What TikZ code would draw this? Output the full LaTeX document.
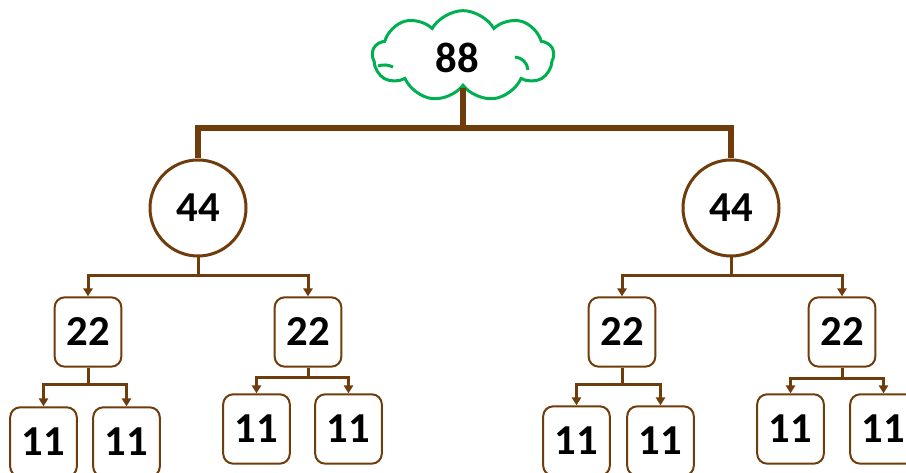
\documentclass[tikz,border=0pt]{standalone}
\usepackage{fontspec}
\setmainfont{Carlito}
\usetikzlibrary{arrows.meta}
\usetikzlibrary{shapes.symbols}
\definecolor{mbrown}{HTML}{6F3C0B}
\definecolor{mgreen}{HTML}{00B050}
\tikzset{num/.style = {font = \fontsize{32}{34}\selectfont\bfseries, text = black}}
\tikzset{puff/.style = {num, cloud, draw = mgreen, line width = 2.25, cloud puffs = 9, cloud puff arc = 120, cloud ignores aspect, minimum width = 136, minimum height = 68}}
\tikzset{half/.style = {num, circle, draw = mbrown, line width = 2.25, inner sep = 0, minimum size = 72}}
\tikzset{box/.style = {num, rectangle, rounded corners = 7.5, draw = mbrown, line width = 1.5, inner sep = 0, minimum width = 50, minimum height = 52}}
\tikzset{trunk/.style = {draw = mbrown, line width = 4.5}}
\tikzset{twig/.style = {draw = mbrown, line width = 2.25, -{Triangle[length = 6, width = 7]}}}

\begin{document}
\begin{tikzpicture}[x = 0.75pt, y = 0.75pt]
      \useasboundingbox (0, 0) rectangle (906, 473);

      \node [puff] (c88) at (463, 417) {};
      \node [num] (t88) at (457, 415) {88};
      % the little inner folds of the cloud
      \draw [mgreen, line width = 2.25] ([shift = {(-85, -10)}] c88.center) to [bend left = 20] ++(15, -1);
      \draw [mgreen, line width = 2.25] ([shift = {(52, -1)}] c88.center) to [bend left = 40] ++(13, -13);

      \node [half] (h44a) at (198, 265) {44};
      \node [half] (h44b) at (731, 265) {44};

      \foreach \x/\n in {88/a, 308/b, 622/c, 842/d} {
        \node [box] (q22\n) at (\x, 141) {22};
      }
      \foreach \x/\y/\n in {43.5/31/a1, 126.5/31/a2, 256.5/44/b1, 348.5/44/b2,
                            576.5/32/c1, 660.5/32/c2, 790.5/44/d1, 883.5/44/d2} {
        \node [box] (e11\n) at (\x, \y) {11};
      }

      \draw [trunk] (c88.south) |- ([yshift = 22.5pt] h44a.north) -- (h44a.north);
      \draw [trunk] (c88.south) |- ([yshift = 22.5pt] h44b.north) -- (h44b.north);

      \foreach \p/\c in {h44a/q22a, h44a/q22b, h44b/q22c, h44b/q22d} {
        \draw [twig] (\p.south) |- ([yshift = 15.75pt] \c.north) -- (\c.north);
      }
      \foreach \n/\g in {a/16.5, b/12, c/15.75, d/11.25} {
        \draw [twig] (q22\n.south) |- ([yshift = \g pt] e11\n1.north) -- (e11\n1.north);
        \draw [twig] (q22\n.south) |- ([yshift = \g pt] e11\n2.north) -- (e11\n2.north);
      }
    \end{tikzpicture}
\end{document}
